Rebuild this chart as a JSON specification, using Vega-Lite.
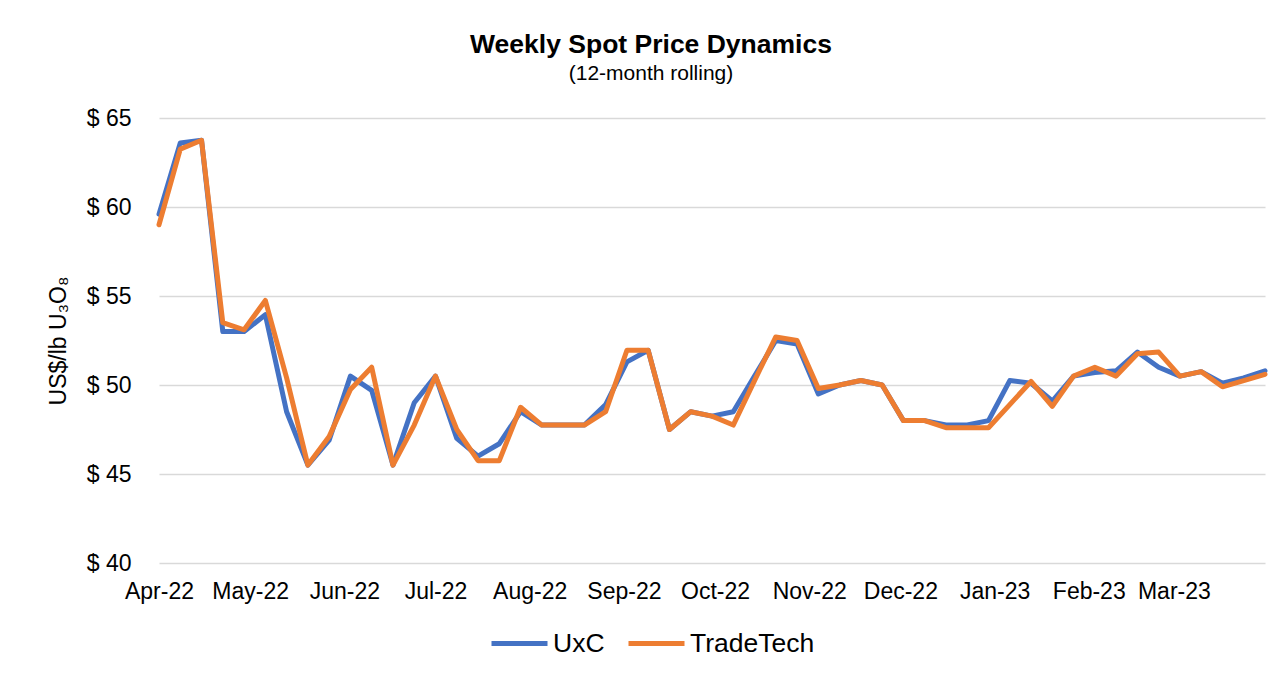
{
  "$schema": "https://vega.github.io/schema/vega-lite/v6.json",
  "autosize": {"type": "none"},
  "width": 1106,
  "height": 445,
  "padding": {"left": 159, "top": 118, "right": 17, "bottom": 112},
  "background": "white",
  "config": {
    "font": "Liberation Sans",
    "view": {"stroke": null}
  },
  "title": {
    "text": "Weekly Spot Price Dynamics",
    "subtitle": "(12-month rolling)",
    "anchor": "middle",
    "dx": -61,
    "fontSize": 26.5,
    "fontWeight": "bold",
    "color": "#000000",
    "subtitleFontSize": 21,
    "subtitleColor": "#000000",
    "subtitlePadding": 5,
    "offset": 23
  },
  "data": {
    "values": [
      {"date": "2022-04-01", "series": "UxC", "price": 59.6}, {"date": "2022-04-01", "series": "TradeTech", "price": 59.0},
      {"date": "2022-04-08", "series": "UxC", "price": 63.6}, {"date": "2022-04-08", "series": "TradeTech", "price": 63.25},
      {"date": "2022-04-15", "series": "UxC", "price": 63.75}, {"date": "2022-04-15", "series": "TradeTech", "price": 63.75},
      {"date": "2022-04-22", "series": "UxC", "price": 53.0}, {"date": "2022-04-22", "series": "TradeTech", "price": 53.5},
      {"date": "2022-04-29", "series": "UxC", "price": 53.0}, {"date": "2022-04-29", "series": "TradeTech", "price": 53.1},
      {"date": "2022-05-06", "series": "UxC", "price": 53.95}, {"date": "2022-05-06", "series": "TradeTech", "price": 54.75},
      {"date": "2022-05-13", "series": "UxC", "price": 48.5}, {"date": "2022-05-13", "series": "TradeTech", "price": 50.4},
      {"date": "2022-05-20", "series": "UxC", "price": 45.5}, {"date": "2022-05-20", "series": "TradeTech", "price": 45.5},
      {"date": "2022-05-27", "series": "UxC", "price": 46.9}, {"date": "2022-05-27", "series": "TradeTech", "price": 47.1},
      {"date": "2022-06-03", "series": "UxC", "price": 50.5}, {"date": "2022-06-03", "series": "TradeTech", "price": 49.75},
      {"date": "2022-06-10", "series": "UxC", "price": 49.7}, {"date": "2022-06-10", "series": "TradeTech", "price": 51.0},
      {"date": "2022-06-17", "series": "UxC", "price": 45.5}, {"date": "2022-06-17", "series": "TradeTech", "price": 45.5},
      {"date": "2022-06-24", "series": "UxC", "price": 49.0}, {"date": "2022-06-24", "series": "TradeTech", "price": 47.75},
      {"date": "2022-07-01", "series": "UxC", "price": 50.5}, {"date": "2022-07-01", "series": "TradeTech", "price": 50.5},
      {"date": "2022-07-08", "series": "UxC", "price": 47.0}, {"date": "2022-07-08", "series": "TradeTech", "price": 47.5},
      {"date": "2022-07-15", "series": "UxC", "price": 46.0}, {"date": "2022-07-15", "series": "TradeTech", "price": 45.75},
      {"date": "2022-07-22", "series": "UxC", "price": 46.7}, {"date": "2022-07-22", "series": "TradeTech", "price": 45.75},
      {"date": "2022-07-29", "series": "UxC", "price": 48.5}, {"date": "2022-07-29", "series": "TradeTech", "price": 48.75},
      {"date": "2022-08-05", "series": "UxC", "price": 47.75}, {"date": "2022-08-05", "series": "TradeTech", "price": 47.75},
      {"date": "2022-08-12", "series": "UxC", "price": 47.75}, {"date": "2022-08-12", "series": "TradeTech", "price": 47.75},
      {"date": "2022-08-19", "series": "UxC", "price": 47.75}, {"date": "2022-08-19", "series": "TradeTech", "price": 47.75},
      {"date": "2022-08-26", "series": "UxC", "price": 48.9}, {"date": "2022-08-26", "series": "TradeTech", "price": 48.5},
      {"date": "2022-09-02", "series": "UxC", "price": 51.3}, {"date": "2022-09-02", "series": "TradeTech", "price": 51.95},
      {"date": "2022-09-09", "series": "UxC", "price": 51.95}, {"date": "2022-09-09", "series": "TradeTech", "price": 51.95},
      {"date": "2022-09-16", "series": "UxC", "price": 47.5}, {"date": "2022-09-16", "series": "TradeTech", "price": 47.5},
      {"date": "2022-09-23", "series": "UxC", "price": 48.5}, {"date": "2022-09-23", "series": "TradeTech", "price": 48.5},
      {"date": "2022-09-30", "series": "UxC", "price": 48.25}, {"date": "2022-09-30", "series": "TradeTech", "price": 48.25},
      {"date": "2022-10-07", "series": "UxC", "price": 48.5}, {"date": "2022-10-07", "series": "TradeTech", "price": 47.75},
      {"date": "2022-10-14", "series": "UxC", "price": 50.5}, {"date": "2022-10-14", "series": "TradeTech", "price": 50.25},
      {"date": "2022-10-21", "series": "UxC", "price": 52.5}, {"date": "2022-10-21", "series": "TradeTech", "price": 52.7},
      {"date": "2022-10-28", "series": "UxC", "price": 52.3}, {"date": "2022-10-28", "series": "TradeTech", "price": 52.5},
      {"date": "2022-11-04", "series": "UxC", "price": 49.5}, {"date": "2022-11-04", "series": "TradeTech", "price": 49.8},
      {"date": "2022-11-11", "series": "UxC", "price": 50.0}, {"date": "2022-11-11", "series": "TradeTech", "price": 50.0},
      {"date": "2022-11-18", "series": "UxC", "price": 50.25}, {"date": "2022-11-18", "series": "TradeTech", "price": 50.25},
      {"date": "2022-11-25", "series": "UxC", "price": 50.0}, {"date": "2022-11-25", "series": "TradeTech", "price": 50.0},
      {"date": "2022-12-02", "series": "UxC", "price": 48.0}, {"date": "2022-12-02", "series": "TradeTech", "price": 48.0},
      {"date": "2022-12-09", "series": "UxC", "price": 48.0}, {"date": "2022-12-09", "series": "TradeTech", "price": 48.0},
      {"date": "2022-12-16", "series": "UxC", "price": 47.75}, {"date": "2022-12-16", "series": "TradeTech", "price": 47.6},
      {"date": "2022-12-23", "series": "UxC", "price": 47.75}, {"date": "2022-12-23", "series": "TradeTech", "price": 47.6},
      {"date": "2022-12-30", "series": "UxC", "price": 48.0}, {"date": "2022-12-30", "series": "TradeTech", "price": 47.6},
      {"date": "2023-01-06", "series": "UxC", "price": 50.25}, {"date": "2023-01-06", "series": "TradeTech", "price": 48.9},
      {"date": "2023-01-13", "series": "UxC", "price": 50.1}, {"date": "2023-01-13", "series": "TradeTech", "price": 50.2},
      {"date": "2023-01-20", "series": "UxC", "price": 49.1}, {"date": "2023-01-20", "series": "TradeTech", "price": 48.8},
      {"date": "2023-01-27", "series": "UxC", "price": 50.5}, {"date": "2023-01-27", "series": "TradeTech", "price": 50.5},
      {"date": "2023-02-03", "series": "UxC", "price": 50.7}, {"date": "2023-02-03", "series": "TradeTech", "price": 51.0},
      {"date": "2023-02-10", "series": "UxC", "price": 50.8}, {"date": "2023-02-10", "series": "TradeTech", "price": 50.5},
      {"date": "2023-02-17", "series": "UxC", "price": 51.85}, {"date": "2023-02-17", "series": "TradeTech", "price": 51.75},
      {"date": "2023-02-24", "series": "UxC", "price": 51.0}, {"date": "2023-02-24", "series": "TradeTech", "price": 51.85},
      {"date": "2023-03-03", "series": "UxC", "price": 50.5}, {"date": "2023-03-03", "series": "TradeTech", "price": 50.5},
      {"date": "2023-03-10", "series": "UxC", "price": 50.75}, {"date": "2023-03-10", "series": "TradeTech", "price": 50.75},
      {"date": "2023-03-17", "series": "UxC", "price": 50.1}, {"date": "2023-03-17", "series": "TradeTech", "price": 49.9},
      {"date": "2023-03-24", "series": "UxC", "price": 50.4}, {"date": "2023-03-24", "series": "TradeTech", "price": 50.25},
      {"date": "2023-03-31", "series": "UxC", "price": 50.8}, {"date": "2023-03-31", "series": "TradeTech", "price": 50.6}
    ]
  },
  "encoding": {
    "x": {
      "field": "date",
      "type": "temporal",
      "scale": {"type": "utc", "domain": ["2022-04-01", "2023-03-31"], "nice": false},
      "axis": {
        "title": null,
        "format": "%b-%y",
        "tickCount": {"interval": "month", "step": 1},
        "grid": false,
        "ticks": false,
        "tickSize": 0,
        "domain": false,
        "labelFontSize": 23,
        "labelColor": "#000000",
        "labelBaseline": "alphabetic",
        "labelPadding": 35,
        "labelFlush": false,
        "labelOverlap": false,
        "labelBound": false
      }
    },
    "y": {
      "field": "price",
      "type": "quantitative",
      "scale": {"domain": [40, 65], "nice": false, "zero": false},
      "axis": {
        "title": "US$/lb U₃O₈",
        "titleFontSize": 23,
        "titleFontWeight": "normal",
        "titleColor": "#000000",
        "titleBaseline": "alphabetic",
        "titleX": -94,
        "values": [40, 45, 50, 55, 60, 65],
        "labelExpr": "'$ ' + datum.value",
        "labelFontSize": 23,
        "labelColor": "#000000",
        "labelPadding": 28,
        "ticks": false,
        "tickSize": 0,
        "domain": false,
        "grid": true,
        "gridColor": "#d9d9d9",
        "gridWidth": 1.3
      }
    },
    "color": {
      "field": "series",
      "type": "nominal",
      "scale": {"domain": ["UxC", "TradeTech"], "range": ["#4472C4", "#ED7D31"]},
      "legend": {
        "title": null,
        "orient": "none",
        "direction": "horizontal",
        "legendX": 330,
        "legendY": 495,
        "symbolType": "stroke",
        "symbolSize": 3136,
        "symbolStrokeWidth": 5,
        "labelFontSize": 26.5,
        "labelColor": "#000000",
        "labelOffset": 3,
        "columnPadding": 13
      }
    }
  },
  "layer": [
    {
      "transform": [{"filter": "datum.series === 'UxC'"}],
      "mark": {"type": "line", "strokeWidth": 5, "strokeCap": "round", "strokeJoin": "round"}
    },
    {
      "transform": [{"filter": "datum.series === 'TradeTech'"}],
      "mark": {"type": "line", "strokeWidth": 5, "strokeCap": "round", "strokeJoin": "round"}
    }
  ]
}
